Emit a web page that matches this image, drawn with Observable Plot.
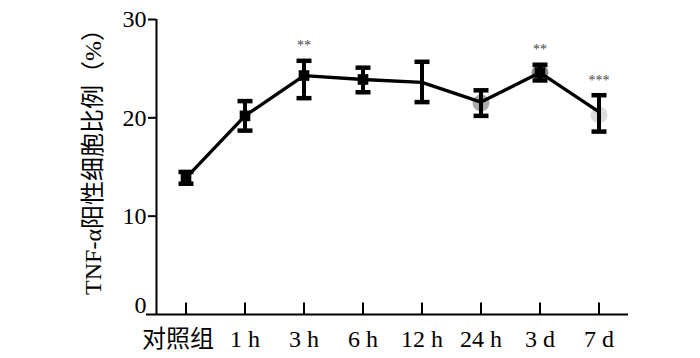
<!DOCTYPE html>
<html>
<head>
<meta charset="utf-8">
<script src="https://cdn.jsdelivr.net/npm/d3@7"></script>
<script src="https://cdn.jsdelivr.net/npm/@observablehq/plot@0.6"></script>
<style>
  html, body { margin: 0; padding: 0; background: #fff; }
</style>
</head>
<body>
<div id="chart"></div>
<script>
const categories = ["对照组", "1 h", "3 h", "6 h", "12 h", "24 h", "3 d", "7 d"];
const means = [13.9, 20.2, 24.3, 23.9, 23.6, 21.6, 24.6, 20.6];
const lows  = [13.3, 18.7, 22.0, 22.6, 21.6, 20.2, 23.8, 18.6];
const highs = [14.5, 21.7, 25.8, 25.1, 25.7, 22.8, 25.4, 22.3];
const significance = ["", "", "**", "", "", "", "**", "***"];
const squareMarkerCats = ["对照组", "1 h", "3 h", "6 h", "3 d"];
const grayMarkerCats = ["24 h", "3 d", "7 d"];
const grayMarkerValues = [21.5, 24.6, 20.3];
const yTicks = [10, 20, 30];
const yZeroTick = [0];
const xDomain = [-0.5, 7.5];
const yDomain = [0, 30];
const yLabel = "TNF-α阳性细胞比例（%）";

const data = categories.map((c, i) => ({
  i, cat: c, mean: means[i], lo: lows[i], hi: highs[i], sig: significance[i]
}));
const squares = data.filter(d => squareMarkerCats.includes(d.cat));
const grays = grayMarkerCats.map((c, k) => ({i: categories.indexOf(c), value: grayMarkerValues[k], k}));
const grayFills = ["#9c9c9c", "#7c7c7c", "#d6d6d6"];

const capSymbol = { draw(ctx) { ctx.moveTo(-7.5, 0); ctx.lineTo(7.5, 0); } };
const xTickSymbol = { draw(ctx) { ctx.moveTo(0, 0); ctx.lineTo(0, -12); } };

const font = "'Liberation Serif', 'Times New Roman', 'Noto Sans CJK SC', serif";
const allIdx = d3.range(categories.length);

const chart = Plot.plot({
  width: 700,
  height: 358,
  marginLeft: 156,
  marginRight: 72,
  marginTop: 19,
  marginBottom: 44,
  style: { fontFamily: font, fontSize: "24px", color: "black", background: "white" },
  x: { type: "linear", domain: xDomain },
  y: { type: "linear", domain: yDomain },
  marks: [
    Plot.ruleX([xDomain[0]], { stroke: "black", strokeWidth: 2 }),
    Plot.ruleY([yDomain[0]], { stroke: "black", strokeWidth: 2, insetLeft: -10 }),
    Plot.axisY({ ticks: yTicks, tickSize: 8, tickPadding: 2, fontSize: 24, tickFormat: d3.format("d"), label: null, strokeWidth: 2 }),
    Plot.axisY({ ticks: yZeroTick, tickSize: 0, tickPadding: 10, dy: -9, fontSize: 24, tickFormat: d3.format("d"), label: null }),
    Plot.axisX({ ticks: allIdx.slice(0, 1), tickSize: 0, tickPadding: 15, dx: -8, fontSize: 24, tickFormat: i => categories[i], label: null }),
    Plot.axisX({ ticks: allIdx.slice(1), tickSize: 0, tickPadding: 15, fontSize: 24, tickFormat: i => categories[i], label: null }),
    Plot.dot(data, { x: "i", frameAnchor: "bottom", symbol: xTickSymbol, fill: "none", stroke: "black", strokeWidth: 2 }),
    Plot.text([yLabel], { text: d => d, frameAnchor: "left", textAnchor: "middle", rotate: -90, dx: -63, dy: -11, fontSize: 24, fill: "black" }),
    Plot.dot(grays, { x: "i", y: "value", r: 8.5, fill: (d) => grayFills[d.k], stroke: "none", fillOpacity: 0.85 }),
    Plot.line(data, { x: "i", y: "mean", stroke: "black", strokeWidth: 3.3 }),
    Plot.ruleX(data, { x: "i", y1: "lo", y2: "hi", stroke: "black", strokeWidth: 4 }),
    Plot.dot(data, { x: "i", y: "lo", symbol: capSymbol, fill: "none", stroke: "black", strokeWidth: 4.5 }),
    Plot.dot(data, { x: "i", y: "hi", symbol: capSymbol, fill: "none", stroke: "black", strokeWidth: 4.5 }),
    Plot.dot(squares, { x: "i", y: "mean", symbol: "square", r: 6, fill: "black", stroke: "none" }),
    Plot.text(data.filter(d => d.sig), { x: "i", y: "hi", text: "sig", dy: -15, fontSize: 14, fill: "#444" })
  ]
});
document.getElementById("chart").appendChild(chart);
</script>
</body>
</html>
